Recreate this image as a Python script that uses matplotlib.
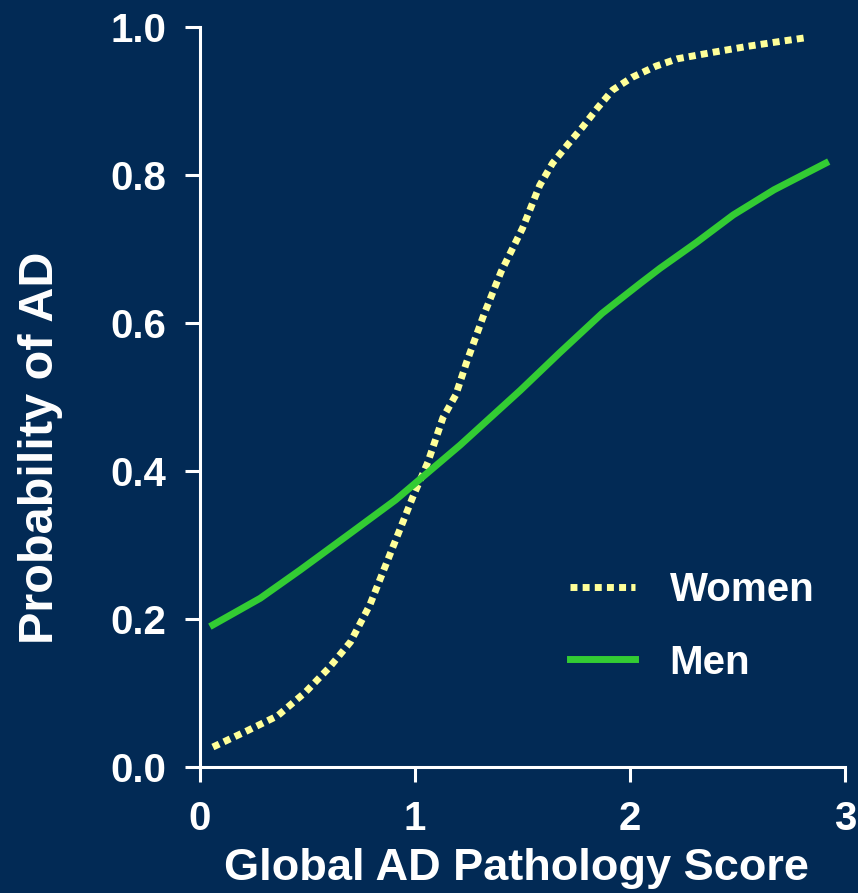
import numpy as np
import matplotlib
matplotlib.use("Agg")
import matplotlib.pyplot as plt

# values
women_x = [0.06, 0.22, 0.36, 0.49, 0.60, 0.70, 0.79, 0.99, 1.06, 1.13, 1.19, 1.24,
           1.32, 1.40, 1.50, 1.58, 1.64, 1.71, 1.78, 1.85, 1.92, 2.01, 2.12, 2.22,
           2.39, 2.55, 2.71, 2.83]
women_y = [0.027, 0.049, 0.069, 0.101, 0.134, 0.169, 0.219, 0.365, 0.412, 0.472, 0.503, 0.547,
           0.611, 0.669, 0.728, 0.786, 0.816, 0.841, 0.865, 0.891, 0.915, 0.932, 0.947, 0.957,
           0.966, 0.974, 0.981, 0.986]

men_x = [0.06, 0.28, 0.465, 0.70, 0.91, 1.21, 1.49, 1.67, 1.87, 2.05, 2.14, 2.31, 2.48, 2.67, 2.91]
men_y = [0.192, 0.228, 0.266, 0.316, 0.361, 0.435, 0.509, 0.559, 0.613, 0.654, 0.674, 0.709,
         0.746, 0.780, 0.816]

xticks = [0, 1, 2, 3]
yticks = [0.0, 0.2, 0.4, 0.6, 0.8, 1.0]

bg = '#022a55'
plt.rcParams['font.family'] = ['Liberation Sans', 'DejaVu Sans']
plt.rcParams['font.weight'] = 'bold'

fig = plt.figure(figsize=(8.58, 8.93), dpi=100, facecolor=bg)
ax = fig.add_axes([200/858, 1-767/893, 645/858, 740/893], facecolor=bg)

ax.plot(women_x, women_y, color='#ffff99', lw=5, linestyle=(0, (1, 0.75)), label='Women')
ax.plot(men_x, men_y, color='#33cc33', lw=5, label='Men')

ax.set_xlim(0, 3)
ax.set_ylim(0, 1)
ax.set_xticks(xticks)
ax.set_xticklabels([str(t) for t in xticks])
ax.set_yticks(yticks)
ax.set_yticklabels(['%.1f' % t for t in yticks])

for s in ['top', 'right']:
    ax.spines[s].set_visible(False)
for s in ['left', 'bottom']:
    ax.spines[s].set_color('white')
    ax.spines[s].set_linewidth(2.2)

ax.tick_params(colors='white', labelsize=29, length=11, width=2.2, pad=13, direction='out')
for lab in ax.get_xticklabels() + ax.get_yticklabels():
    lab.set_fontweight('bold')

ax.set_xlabel('Global AD Pathology Score', color='white', fontsize=32.5, fontweight='bold', labelpad=7)
ax.xaxis.label.set_x(0.49)
ax.set_ylabel('Probability of AD', color='white', fontsize=35, fontweight='bold')
ax.yaxis.label.set_va('center')
ax.yaxis.set_label_coords(-0.248, 0.432)

leg = ax.legend(loc='center left', bbox_to_anchor=(0.574, 0.19), frameon=False, fontsize=29,
                handlelength=1.6, handletextpad=0.87, labelspacing=0.85,
                borderpad=0, borderaxespad=0)
for t in leg.get_texts():
    t.set_color('white')
    t.set_fontweight('bold')

fig.savefig('out.png', dpi=100, facecolor=bg)
